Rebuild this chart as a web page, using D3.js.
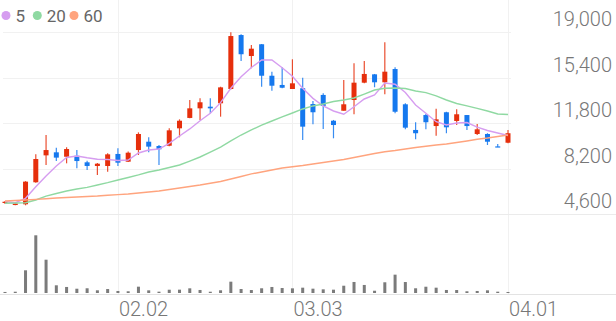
<!DOCTYPE html>
<html>
<head>
<meta charset="utf-8">
<script src="https://cdn.jsdelivr.net/npm/d3@7"></script>
<style>
  body { margin: 0; background: #fff; }
  svg { display: block; font-family: Roboto, 'Noto Sans', sans-serif; }
</style>
</head>
<body>
<div class="canvas"></div>
<script>
// trading days (MM.DD)
const dates = [
  '01.16','01.19','01.20','01.21','01.22','01.23','01.26','01.27','01.28','01.29','01.30',
  '02.02','02.03','02.04','02.05','02.06','02.09','02.10','02.11','02.12','02.13','02.19','02.20','02.23','02.24','02.25','02.26','02.27',
  '03.03','03.04','03.05','03.06','03.09','03.10','03.11','03.12','03.13','03.16','03.17','03.18','03.19','03.20','03.23','03.24','03.25','03.26','03.27','03.30','03.31',
  '04.01'
];

const open  = [5470,5310,5370,7110,9240,9480,9130,9210,8690,8400,8400,9350,8740,9660,10320,9980,10000,11380,12200,12960,13090,13360,14490,18760,17100,18030,15540,14810,14490,14550,13300,14020,11980,12770,13620,14990,15650,15020,16070,13280,11250,12430,11560,12650,11960,12430,10930,10930,9950,10240];
const high  = [5630,5480,7200,9320,10850,9850,9880,9660,8820,8640,9400,9800,9550,11060,10670,10060,11380,12090,13620,13750,13750,14670,18980,18820,17970,18050,15860,16210,16840,15380,13540,14150,12040,15200,16520,16700,15680,18190,16210,13360,11860,12510,12930,12690,12880,12430,11720,10990,10140,11250];
const low   = [5400,5290,5290,7080,8480,8790,8610,8220,8080,7690,7950,8400,8710,9270,9480,8480,9960,10670,12170,12040,12570,12300,14450,16710,16130,14670,14360,14550,14490,10460,11700,11330,10590,12770,12490,14940,14630,14070,12570,11300,10510,11300,10800,10990,11640,11250,10850,10060,9900,10190];
const close = [5570,5430,7160,8950,9660,9060,9740,8790,8400,8580,9320,8660,9450,10930,9930,9720,11220,11980,12960,13440,12960,14620,18680,17240,17680,15540,14750,14590,14940,11510,12650,13150,11640,13280,14990,15680,15020,15860,12690,11430,10990,11860,12090,11460,12490,11560,11300,10320,9900,10990];

const volume = [52000,64000,1135000,2885000,1665000,385000,302000,214000,236000,135000,198000,101000,86000,316000,133000,66000,164000,167000,234000,151000,64000,136000,566000,199000,148000,236000,301000,249000,233000,266000,216000,184000,166000,364000,551000,402000,114000,536000,917000,549000,236000,314000,266000,151000,149000,86000,101000,134000,66000,51000];

// moving averages
const ma5  = [5590,5490,5840,6760,7610,8400,9070,9190,9050,8930,8910,8830,8870,9430,9660,9740,10190,10770,11330,11980,12570,13410,14550,15460,16190,16780,16780,16170,15500,14550,13750,13150,12750,12490,13090,13700,14020,14970,14870,14210,13220,12570,11900,11640,11800,11840,11480,11210,11010,10810];
const ma20 = [5450,5470,5490,5710,6020,6220,6420,6580,6710,6890,7080,7290,7490,7690,7920,8080,8280,8480,8790,9110,9500,9900,10380,10850,11250,11640,11960,12280,12590,12910,13150,13300,13500,13620,13780,14090,14410,14550,14570,14530,14330,14200,13940,13620,13340,13150,12960,12750,12510,12470];
const ma60 = [5630,5670,5710,5760,5810,5870,5910,5950,5990,6020,6080,6130,6180,6260,6340,6420,6540,6660,6780,6890,7030,7170,7370,7570,7770,7920,8080,8240,8340,8440,8560,8680,8790,8910,9070,9230,9390,9530,9620,9740,9860,9960,10060,10140,10260,10380,10510,10610,10730,10850];

const priceTicks = [4600, 8200, 11800, 15400, 19000];
const dateTicks = ['02.02', '03.03', '04.01'];
const maNames = ['5', '20', '60'];

const dims = { width: 616, height: 321 };
const upColor = '#e62f0c';
const downColor = '#1578ee';
const maColors = ['#d69df0', '#8fd9a2', '#ffa47e'];

const svg = d3.select('.canvas')
    .append('svg')
    .attr('width', dims.width)
    .attr('height', dims.height)

const x = d3.scalePoint()
    .domain(dates)
    .range([5, 508])

const y = d3.scaleLinear()
    .domain([4600, 19000])
    .range([214, 32])

const yVol = d3.scaleLinear()
    .domain([0, d3.max(volume)])
    .range([293, 235.3])

// horizontal grid lines
svg.append('g')
    .selectAll('line')
    .data(priceTicks.slice(1))
    .enter()
    .append('line')
    .attr('x1', 3)
    .attr('x2', 511)
    .attr('y1', d => Math.round(y(d)) + 0.5)
    .attr('y2', d => Math.round(y(d)) + 0.5)
    .attr('stroke', '#f1f1f1')

// vertical grid lines at month starts
svg.append('g')
    .selectAll('line')
    .data(dateTicks)
    .enter()
    .append('line')
    .attr('x1', d => Math.round(x(d)) + 0.5)
    .attr('x2', d => Math.round(x(d)) + 0.5)
    .attr('y1', 0)
    .attr('y2', 294)
    .attr('stroke', '#f1f1f1')

// pane bottom lines
svg.append('line')
    .attr('x1', 0).attr('x2', dims.width)
    .attr('y1', Math.round(y(4600)) + 0.5).attr('y2', Math.round(y(4600)) + 0.5)
    .attr('stroke', '#ebebeb')

svg.append('line')
    .attr('x1', 0).attr('x2', dims.width)
    .attr('y1', 294.5).attr('y2', 294.5)
    .attr('stroke', '#e3e3e3')

// y axis labels (right side, above each grid line)
svg.append('g')
    .selectAll('text')
    .data(priceTicks)
    .enter()
    .append('text')
    .attr('x', 612)
    .attr('y', d => y(d) - 6)
    .attr('text-anchor', 'end')
    .attr('font-size', 20)
    .attr('font-weight', 300)
    .attr('fill', '#777')
    .text(d => d3.format(',')(d))

// x axis labels
svg.append('g')
    .selectAll('text')
    .data(dateTicks)
    .enter()
    .append('text')
    .attr('x', d => x(d) + 1)
    .attr('y', 316)
    .attr('font-size', 20)
    .attr('font-weight', 300)
    .attr('fill', '#777')
    .text(d => d)

// volume bars
svg.append('g')
    .selectAll('rect')
    .data(volume)
    .enter()
    .append('rect')
    .attr('x', (d, i) => x(dates[i]) - 1.5)
    .attr('width', 3)
    .attr('y', d => yVol(d))
    .attr('height', d => 293 - yVol(d))
    .attr('fill', '#7b7b7b')

// candles
const candles = svg.append('g')
    .selectAll('g')
    .data(dates.map((d, i) => ({ date: d, o: open[i], h: high[i], l: low[i], c: close[i] })))
    .enter()
    .append('g')
    .attr('fill', d => d.c >= d.o ? upColor : downColor)
    .attr('stroke', d => d.c >= d.o ? upColor : downColor)

candles.append('line')
    .attr('x1', d => x(d.date))
    .attr('x2', d => x(d.date))
    .attr('y1', d => y(d.h))
    .attr('y2', d => y(d.l))
    .attr('stroke-width', 1.2)
    .attr('stroke-opacity', 0.85)

candles.append('rect')
    .attr('x', d => x(d.date) - 2.5)
    .attr('width', 5)
    .attr('y', d => y(Math.max(d.o, d.c)))
    .attr('height', d => Math.max(1.2, Math.abs(y(d.o) - y(d.c))))
    .attr('stroke', 'none')

// moving average lines
const line = d3.line()
    .x((d, i) => x(dates[i]))
    .y(d => y(d))

svg.append('g')
    .selectAll('path')
    .data([ma5, ma20, ma60])
    .enter()
    .append('path')
    .attr('fill', 'none')
    .attr('stroke', (d, i) => maColors[i])
    .attr('stroke-width', 1.4)
    .attr('d', line)

// legend
const legend = svg.append('g')
const legendX = [6, 37.3, 74];
maNames.forEach((name, i) => {
    legend.append('circle')
        .attr('cx', legendX[i])
        .attr('cy', 15.5)
        .attr('r', 4.5)
        .attr('fill', maColors[i])
    legend.append('text')
        .attr('x', legendX[i] + 9.5)
        .attr('y', 21.7)
        .attr('font-size', 17)
        .attr('fill', '#666')
        .text(name)
})
</script>
</body>
</html>
